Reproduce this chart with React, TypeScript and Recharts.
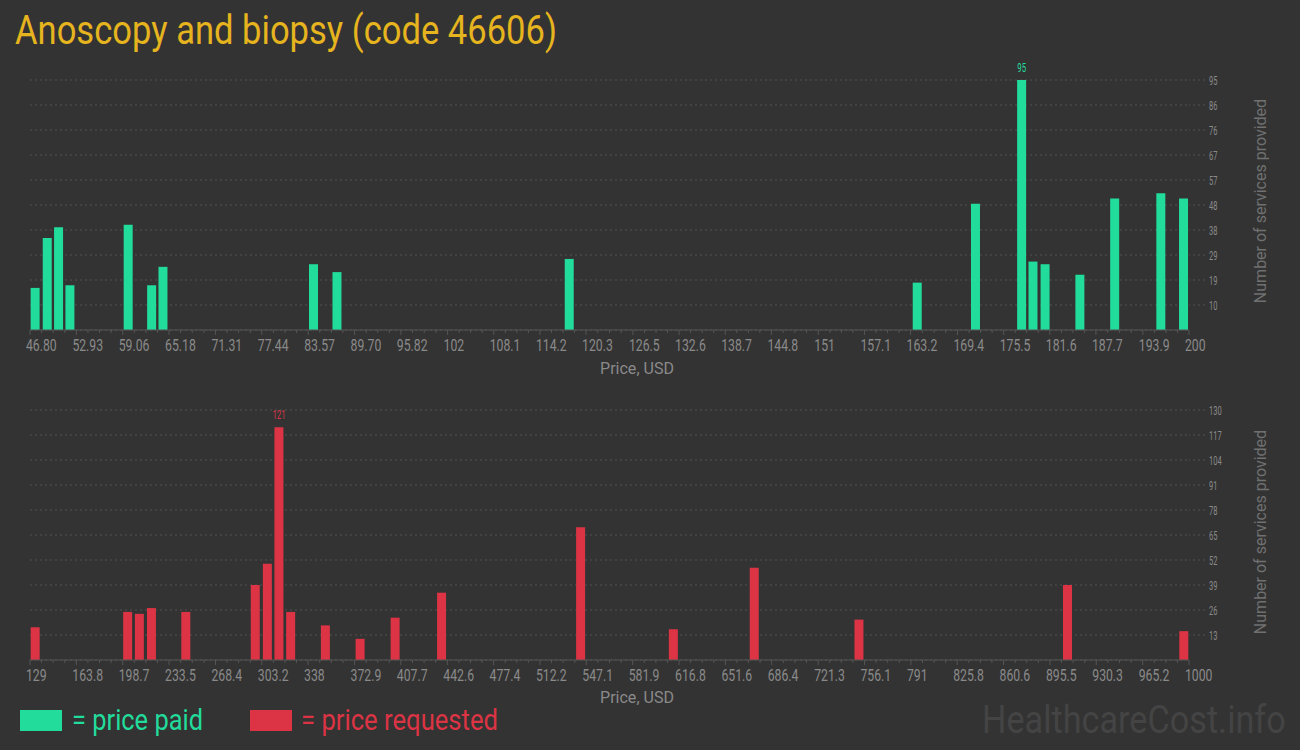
import React from 'react'
import { BarChart, Bar, XAxis, YAxis, CartesianGrid, LabelList } from 'recharts'

// price paid (top panel)
const paidPrices = [47.5, 49.1, 50.6, 52.1, 59.8, 62.9, 64.4, 84.3, 87.4, 118.1, 164.1, 171.8, 177.9, 179.4, 181.0, 185.6, 190.2, 196.3, 199.3]
const paidCounts = [16, 35, 39, 17, 40, 17, 24, 25, 22, 27, 18, 48, 95, 26, 25, 21, 50, 52, 50]
const paidTickLabels = ['46.80', '52.93', '59.06', '65.18', '71.31', '77.44', '83.57', '89.70', '95.82', '102', '108.1', '114.2', '120.3', '126.5', '132.6', '138.7', '144.8', '151', '157.1', '163.2', '169.4', '175.5', '181.6', '187.7', '193.9', '200']
const paidCountTicks = [9.5, 19, 28.5, 38, 47.5, 57, 66.5, 76, 85.5, 95]

// price requested (bottom panel)
const requestedPrices = [133.1, 202.6, 211.4, 220.5, 246.3, 298.5, 307.6, 316.3, 325.1, 351.2, 377.3, 403.6, 438.5, 543.0, 612.7, 673.5, 752.2, 908.9, 996.3]
const requestedCounts = [17, 25, 24, 27, 25, 39, 50, 121, 25, 18, 11, 22, 35, 69, 16, 48, 21, 39, 15]
const requestedTickLabels = ['129', '163.8', '198.7', '233.5', '268.4', '303.2', '338', '372.9', '407.7', '442.6', '477.4', '512.2', '547.1', '581.9', '616.8', '651.6', '686.4', '721.3', '756.1', '791', '825.8', '860.6', '895.5', '930.3', '965.2', '1000']
const requestedCountTicks = [13, 26, 39, 52, 65, 78, 91, 104, 117, 130]

const GREEN = '#22dc9c'
const RED = '#dc3444'
const BG = '#333333'
const TICK = '#8a8a8a'
const LINE = '#555555'
const GRID = '#525252'
const FONT = 'Roboto, sans-serif'

// majors plus 3 minor ticks between each pair
function withMinorTicks(labels: string[]) {
  const vals = labels.map(Number)
  const out: number[] = []
  vals.forEach((v, i) => {
    if (i > 0) {
      const p = vals[i - 1]
      for (let k = 1; k < 4; k++) out.push(p + ((v - p) * k) / 4)
    }
    out.push(v)
  })
  return out
}

function makeXTick(labels: string[], axisY: number) {
  return (props: any) => {
    const { x, payload } = props
    const label = labels.find((l) => Math.abs(Number(l) - payload.value) < 1e-6)
    return (
      <g>
        <line x1={x} x2={x} y1={axisY} y2={axisY + (label ? 5 : 3)} stroke={LINE} />
        {label && (
          <text transform={`translate(${x - 4},${axisY + 9}) scale(0.72,1)`} dy="0.71em" fontSize={17} fill={TICK} fontFamily={FONT}>
            {label}
          </text>
        )}
      </g>
    )
  }
}

const YTick = (props: any) => {
  const { x, y, payload } = props
  return (
    <text transform={`translate(${x},${y}) scale(0.6,1)`} dy="0.36em" fontSize={12.5} fill={TICK} fontFamily={FONT}>
      {Math.round(payload.value)}
    </text>
  )
}

function maxLabel(max: number, color: string) {
  return (props: any) => {
    const { x, y, width, value } = props
    if (value !== max) return null
    return (
      <text transform={`translate(${x + width / 2},${y - 8}) scale(0.65,1)`} textAnchor="middle" fontSize={12} fill={color} fontFamily={FONT}>
        {value}
      </text>
    )
  }
}

type PanelProps = {
  top: number
  prices: number[]
  counts: number[]
  tickLabels: string[]
  countTicks: number[]
  color: string
}

function Panel({ top, prices, counts, tickLabels, countTicks, color }: PanelProps) {
  const data = prices.map((price, i) => ({ price, count: counts[i] }))
  const domainX = [Number(tickLabels[0]), Number(tickLabels[tickLabels.length - 1])]
  const maxCount = Math.max(...counts)
  const xAxisH = 50
  const height = 380
  return (
    <div style={{ position: 'absolute', left: 0, top }}>
      <BarChart width={1300} height={height} data={data} margin={{ top: 80, right: 0, bottom: 0, left: 30 }}>
        <CartesianGrid vertical={false} stroke={GRID} strokeDasharray="2 3" />
        <XAxis
          dataKey="price"
          type="number"
          domain={domainX}
          ticks={withMinorTicks(tickLabels)}
          interval={0}
          height={xAxisH}
          tickLine={false}
          axisLine={{ stroke: LINE }}
          tick={makeXTick(tickLabels, height - xAxisH)}
        />
        <YAxis
          orientation="right"
          type="number"
          domain={[0, countTicks[countTicks.length - 1]]}
          ticks={countTicks}
          interval={0}
          width={111}
          axisLine={false}
          tickSize={16}
          tickMargin={4}
          tickLine={{ stroke: GRID, strokeDasharray: '2 3' }}
          tick={YTick}
        />
        <Bar dataKey="count" fill={color} barSize={9} isAnimationActive={false}>
          <LabelList dataKey="count" content={maxLabel(maxCount, color)} />
        </Bar>
      </BarChart>
    </div>
  )
}

export default function App() {
  return (
    <div style={{ position: 'absolute', left: 0, top: 0, width: 1300, height: 750, background: BG, overflow: 'hidden' }}>
      <Panel top={0} prices={paidPrices} counts={paidCounts} tickLabels={paidTickLabels} countTicks={paidCountTicks} color={GREEN} />
      <Panel top={330} prices={requestedPrices} counts={requestedCounts} tickLabels={requestedTickLabels} countTicks={requestedCountTicks} color={RED} />
      <svg width={1300} height={750} style={{ position: 'absolute', left: 0, top: 0, pointerEvents: 'none' }} fontFamily={FONT}>
        <text x={15} y={44} fontSize={41} fill="#e6b41e" textLength={542} lengthAdjust="spacingAndGlyphs">
          Anoscopy and biopsy (code 46606)
        </text>
        <text transform="translate(1266,201) rotate(-90)" textAnchor="middle" fontSize={16} fill="#707070">
          Number of services provided
        </text>
        <text transform="translate(1266,532) rotate(-90)" textAnchor="middle" fontSize={16} fill="#707070">
          Number of services provided
        </text>
        <text x={637} y={374} textAnchor="middle" fontSize={17} fill={TICK} textLength={74} lengthAdjust="spacingAndGlyphs">
          Price, USD
        </text>
        <text x={637} y={703} textAnchor="middle" fontSize={17} fill={TICK} textLength={74} lengthAdjust="spacingAndGlyphs">
          Price, USD
        </text>
        <rect x={20} y={710} width={42} height={21} fill={GREEN} />
        <text x={72} y={730} fontSize={29} fill={GREEN} textLength={131} lengthAdjust="spacingAndGlyphs">
          = price paid
        </text>
        <rect x={250} y={710} width={42} height={21} fill={RED} />
        <text x={301} y={730} fontSize={29} fill={RED} textLength={197} lengthAdjust="spacingAndGlyphs">
          = price requested
        </text>
        <text transform="translate(982,733) scale(0.878,1)" fontSize={39} fill="#444444" textLength={346} lengthAdjust="spacingAndGlyphs">
          HealthcareCost.info
        </text>
      </svg>
    </div>
  )
}
